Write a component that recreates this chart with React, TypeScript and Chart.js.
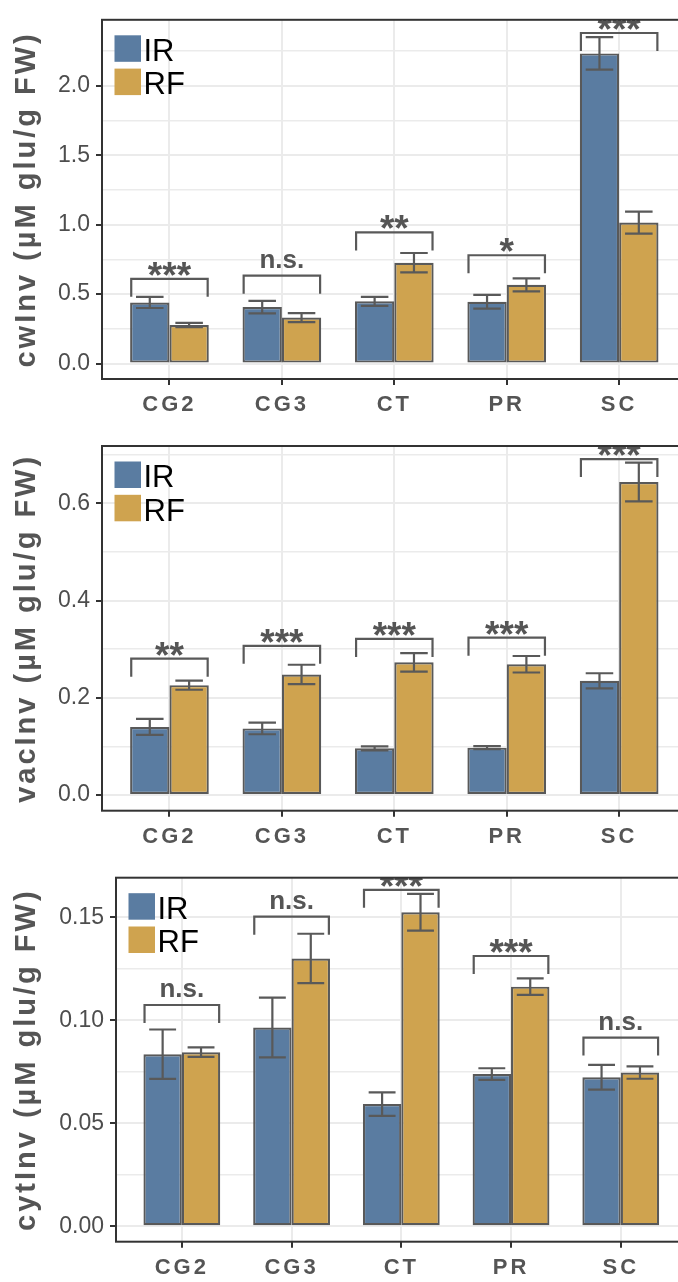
import React, { useEffect, useRef } from 'react';
import { Chart, registerables } from 'chart.js';

Chart.register(...registerables);

// Categories and groups
const categories = ['CG2', 'CG3', 'CT', 'PR', 'SC'];
const groups = ['IR', 'RF'];
const groupColors = ['#5A7CA1', '#CFA34F'];

// Cell-wall invertase: means, standard errors, significance
const cwInvIR = [0.44, 0.407, 0.448, 0.445, 2.233];
const cwInvIRse = [0.04, 0.045, 0.032, 0.05, 0.117];
const cwInvRF = [0.278, 0.331, 0.726, 0.567, 1.015];
const cwInvRFse = [0.015, 0.032, 0.07, 0.047, 0.079];
const cwInvSig = ['***', 'n.s.', '**', '*', '***'];
const cwInvBracket = [0.61, 0.633, 0.944, 0.78, 2.38];

// Vacuolar invertase
const vacInvIR = [0.14, 0.137, 0.096, 0.0974, 0.235];
const vacInvIRse = [0.0165, 0.012, 0.004, 0.003, 0.0155];
const vacInvRF = [0.226, 0.248, 0.273, 0.269, 0.644];
const vacInvRFse = [0.0095, 0.02, 0.019, 0.017, 0.04];
const vacInvSig = ['**', '***', '***', '***', '***'];
const vacInvBracket = [0.2805, 0.307, 0.321, 0.3237, 0.691];

// Cytosolic invertase
const cytInvIR = [0.0835, 0.0965, 0.0593, 0.0739, 0.0723];
const cytInvIRse = [0.012, 0.0145, 0.0057, 0.0028, 0.006];
const cytInvRF = [0.0845, 0.13, 0.1524, 0.1163, 0.0746];
const cytInvRFse = [0.0023, 0.012, 0.0089, 0.004, 0.003];
const cytInvSig = ['n.s.', 'n.s.', '***', '***', 'n.s.'];
const cytInvBracket = [0.1074, 0.1503, 0.1633, 0.1312, 0.0916];

// Y axis ranges and tick spacing (minor step, major step, decimals)
const cwInvAxis = [-0.111, 2.475, 0.25, 0.5, 1];
const vacInvAxis = [-0.0323, 0.718, 0.1, 0.2, 1];
const cytInvAxis = [-0.0075, 0.1692, 0.025, 0.05, 2];

const FONT = "'Liberation Sans', Arial, Helvetica, sans-serif";
const CANVAS_W = 700;
const PLOT_RIGHT = 686.6;

type PanelSpec = {
  title: string;
  ir: number[];
  irSe: number[];
  rf: number[];
  rfSe: number[];
  sig: string[];
  bracket: number[];
  axis: number[];
  top: number;
  height: number;
  frameLeft: number;
  frameTop: number;
  frameBottom: number;
};

const panels: PanelSpec[] = [
  {
    title: 'cwInv (µM glu/g FW)', ir: cwInvIR, irSe: cwInvIRse, rf: cwInvRF, rfSe: cwInvRFse,
    sig: cwInvSig, bracket: cwInvBracket, axis: cwInvAxis,
    top: 0, height: 430, frameLeft: 102, frameTop: 15, frameBottom: 379,
  },
  {
    title: 'vacInv (µM glu/g FW)', ir: vacInvIR, irSe: vacInvIRse, rf: vacInvRF, rfSe: vacInvRFse,
    sig: vacInvSig, bracket: vacInvBracket, axis: vacInvAxis,
    top: 420, height: 430, frameLeft: 102, frameTop: 446, frameBottom: 810.7,
  },
  {
    title: 'cytInv (µM glu/g FW)', ir: cytInvIR, irSe: cytInvIRse, rf: cytInvRF, rfSe: cytInvRFse,
    sig: cytInvSig, bracket: cytInvBracket, axis: cytInvAxis,
    top: 840, height: 442, frameLeft: 116, frameTop: 877.7, frameBottom: 1241.7,
  },
];

function makePanelPlugin(p: PanelSpec) {
  const errors = [p.irSe, p.rfSe];
  return {
    id: 'panelDecor',
    // bold axis text is drawn slightly letter-spaced; everything after the grid is not
    beforeDraw(chart: any) {
      chart.ctx.letterSpacing = '3px';
    },
    beforeDatasetsDraw(chart: any) {
      chart.ctx.letterSpacing = '0px';
    },
    afterDatasetsDraw(chart: any) {
      const { ctx, chartArea: ca } = chart;
      const xs = chart.scales.x;
      const ys = chart.scales.y;

      // error bars (mean ± se)
      ctx.save();
      ctx.strokeStyle = '#595959';
      ctx.lineWidth = 2.2;
      chart.data.datasets.forEach((ds: any, di: number) => {
        const meta = chart.getDatasetMeta(di);
        meta.data.forEach((bar: any, i: number) => {
          const { x, width } = bar.getProps(['x', 'width'], true);
          const v = ds.data[i].y;
          const hi = ys.getPixelForValue(v + errors[di][i]);
          const lo = ys.getPixelForValue(v - errors[di][i]);
          const hw = width * 0.35;
          ctx.beginPath();
          ctx.moveTo(x, hi);
          ctx.lineTo(x, lo);
          ctx.moveTo(x - hw, hi);
          ctx.lineTo(x + hw, hi);
          ctx.moveTo(x - hw, lo);
          ctx.lineTo(x + hw, lo);
          ctx.stroke();
        });
      });
      ctx.restore();

      // significance brackets, clipped to the panel
      ctx.save();
      ctx.beginPath();
      ctx.rect(ca.left, ca.top, ca.right - ca.left, ca.bottom - ca.top);
      ctx.clip();
      ctx.strokeStyle = '#595959';
      ctx.fillStyle = '#555555';
      ctx.lineWidth = 2.2;
      ctx.textAlign = 'center';
      ctx.textBaseline = 'alphabetic';
      p.sig.forEach((label, i) => {
        const x1 = xs.getPixelForValue(i - 0.34);
        const x2 = xs.getPixelForValue(i + 0.34);
        const yt = ys.getPixelForValue(p.bracket[i]);
        ctx.beginPath();
        ctx.moveTo(x1, yt + 18);
        ctx.lineTo(x1, yt);
        ctx.lineTo(x2, yt);
        ctx.lineTo(x2, yt + 18);
        ctx.stroke();
        const stars = label.startsWith('*');
        ctx.font = `bold ${stars ? 37 : 26}px ${FONT}`;
        const m = ctx.measureText(label);
        const gap = stars ? 3 : 8;
        const baseline = yt - gap - m.actualBoundingBoxDescent;
        ctx.fillText(label, xs.getPixelForValue(i), baseline);
      });
      ctx.restore();
    },
    afterDraw(chart: any) {
      const { ctx, chartArea: ca } = chart;
      // panel frame
      ctx.save();
      ctx.strokeStyle = '#333333';
      ctx.lineWidth = 2;
      ctx.strokeRect(ca.left, ca.top, ca.right - ca.left, ca.bottom - ca.top);

      // legend
      const size = 26.5;
      const step = 33.3;
      const kx = ca.left + 12.5;
      const ky = ca.top + 15.5;
      ctx.font = `31px ${FONT}`;
      ctx.textAlign = 'left';
      ctx.textBaseline = 'alphabetic';
      groups.forEach((g, k) => {
        const y = ky + k * step;
        ctx.fillStyle = groupColors[k];
        ctx.fillRect(kx, y, size, size);
        ctx.fillStyle = '#000000';
        ctx.fillText(g, kx + size + 2.5, y + size / 2 + 12.5);
      });
      ctx.restore();
    },
  };
}

function buildConfig(p: PanelSpec): any {
  const [yMin, yMax, yStep, yMajor, dec] = p.axis;
  const isMajor = (v: number) => Math.abs(v / yMajor - Math.round(v / yMajor)) < 1e-6;
  const toPoints = (vals: number[]) => vals.map((v, i) => ({ x: i, y: v }));
  return {
    type: 'bar',
    data: {
      datasets: [
        { label: groups[0], data: toPoints(p.ir), backgroundColor: groupColors[0] },
        { label: groups[1], data: toPoints(p.rf), backgroundColor: groupColors[1] },
      ].map((d) => ({
        ...d,
        borderColor: '#595959',
        borderWidth: 2.2,
        borderSkipped: false,
        categoryPercentage: 0.7,
        barPercentage: 1.0,
      })),
    },
    options: {
      animation: false,
      responsive: false,
      devicePixelRatio: 1,
      events: [],
      layout: {
        padding: { left: 0, top: p.frameTop - p.top, right: CANVAS_W - PLOT_RIGHT, bottom: 0 },
      },
      plugins: { legend: { display: false }, tooltip: { enabled: false } },
      scales: {
        x: {
          type: 'linear',
          min: -0.6,
          max: 4.6,
          offset: false,
          afterFit: (s: any) => {
            s.height = p.top + p.height - p.frameBottom;
          },
          border: { display: false },
          grid: {
            offset: false,
            color: '#EBEBEB',
            lineWidth: 2,
            tickColor: '#333333',
            tickWidth: 2,
            tickLength: 6,
          },
          ticks: {
            stepSize: 1,
            includeBounds: false,
            autoSkip: false,
            maxRotation: 0,
            padding: 7,
            color: '#555555',
            font: { family: FONT, size: 22, weight: 'bold' },
            callback: (v: number) => categories[v] ?? '',
          },
        },
        y: {
          type: 'linear',
          min: yMin,
          max: yMax,
          afterFit: (s: any) => {
            s.width = p.frameLeft;
          },
          border: { display: false },
          grid: {
            color: '#EBEBEB',
            lineWidth: (c: any) => (c.tick && isMajor(c.tick.value) ? 2 : 1.5),
            tickColor: (c: any) => (c.tick && isMajor(c.tick.value) ? '#333333' : 'rgba(0,0,0,0)'),
            tickWidth: 2,
            tickLength: 6,
          },
          ticks: {
            stepSize: yStep,
            includeBounds: false,
            autoSkip: false,
            padding: 6,
            z: 1,
            color: '#4D4D4D',
            font: { family: FONT, size: 23 },
            callback: (v: number) => (isMajor(v) ? v.toFixed(dec) : ''),
          },
          title: {
            display: true,
            text: p.title,
            color: '#555555',
            font: { family: FONT, size: 29, weight: 'bold' },
            padding: { top: 10, bottom: 0 },
          },
        },
      },
    },
    plugins: [makePanelPlugin(p)],
  };
}

function Panel({ p }: { p: PanelSpec }) {
  const ref = useRef<HTMLCanvasElement>(null);
  useEffect(() => {
    const chart = new Chart(ref.current as HTMLCanvasElement, buildConfig(p));
    return () => chart.destroy();
  }, [p]);
  return (
    <canvas
      ref={ref}
      width={CANVAS_W}
      height={p.height}
      style={{ position: 'absolute', left: 0, top: p.top, width: CANVAS_W, height: p.height }}
    />
  );
}

export default function App() {
  return (
    <div
      style={{
        position: 'absolute',
        left: 0,
        top: 0,
        width: 678,
        height: 1282,
        overflow: 'hidden',
        background: '#ffffff',
      }}
    >
      {panels.map((p) => (
        <Panel key={p.title} p={p} />
      ))}
    </div>
  );
}
